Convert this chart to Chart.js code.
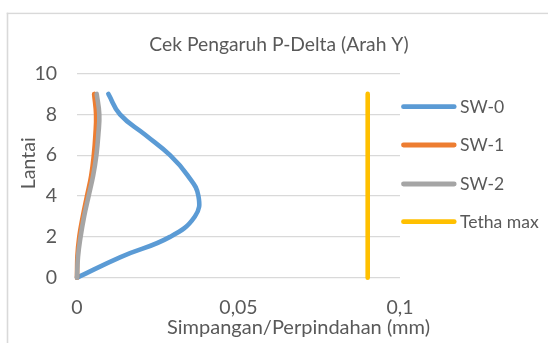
<!DOCTYPE html>
<html>
<head>
<meta charset="utf-8">
<script src="https://cdn.jsdelivr.net/npm/chart.js@4/dist/chart.umd.min.js"></script>
<style>
  html, body { margin: 0; padding: 0; background: #ffffff; overflow: hidden; }
  canvas { display: block; }
</style>
</head>
<body>
<canvas id="chart" width="548" height="343"></canvas>
<script>
// Floor levels (Lantai)
const floors = [0, 1, 2, 3, 4, 5, 6, 7, 8, 9];

// Storey drift per floor (mm) for each shear-wall configuration
const sw0 = [0, 0.0133, 0.0288, 0.0365, 0.0376, 0.0343, 0.0288, 0.0211, 0.0133, 0.0097];
const sw1 = [0, 0.0001, 0.0007, 0.0018, 0.0031, 0.0044, 0.0052, 0.0057, 0.0059, 0.0053];
const sw2 = [0, 0.0003, 0.0011, 0.0022, 0.0036, 0.0050, 0.0060, 0.0066, 0.0069, 0.0061];

// Stability limit (theta max)
const tethaX = [0.09, 0.09];
const tethaY = [0, 9];

// Axis ticks
const xTickValues = [0, 0.05, 0.1];
const xTickLabels = ['0', '0,05', '0,1'];
const yTickValues = [0, 2, 4, 6, 8, 10];

const seriesNames = ['SW-0', 'SW-1', 'SW-2', 'Tetha max'];
const seriesColors = ['#5B9BD5', '#ED7D31', '#A5A5A5', '#FFC000'];

const TEXT = '#595959';
const GRID = '#D9D9D9';
const FONT = 'Lato, "Open Sans", sans-serif';

const toPoints = (xs, ys) => xs.map((x, i) => ({ x: x, y: ys[i] }));

function makeSeries(i, xs, ys, tension, order) {
  return {
    label: seriesNames[i],
    data: toPoints(xs, ys),
    showLine: true,
    borderColor: seriesColors[i],
    backgroundColor: seriesColors[i],
    borderWidth: 4.6,
    borderCapStyle: 'round',
    borderJoinStyle: 'round',
    pointRadius: 0,
    pointHoverRadius: 0,
    tension: tension,
    order: order,
    clip: false
  };
}

// Frame, titles and legend drawn around the plot
const decorations = {
  id: 'decorations',
  beforeDraw(chart) {
    const ctx = chart.ctx;
    ctx.save();
    ctx.fillStyle = '#ffffff';
    ctx.fillRect(0, 0, chart.width, chart.height);
    ctx.fillStyle = GRID;
    ctx.fillRect(6.7, 12.7, 1.6, chart.height);
    ctx.fillRect(6.7, 12.7, chart.width, 1.4);
    ctx.restore();
  },
  afterDraw(chart) {
    const ctx = chart.ctx;
    ctx.save();
    ctx.fillStyle = TEXT;
    ctx.textBaseline = 'alphabetic';

    // chart title
    ctx.font = '19.3px ' + FONT;
    ctx.textAlign = 'center';
    ctx.fillText('Cek Pengaruh P-Delta (Arah Y)', 279, 51);

    // x-axis title
    ctx.font = '20px ' + FONT;
    ctx.fillText('Simpangan/Perpindahan (mm)', 298.5, 334);

    // y-axis title
    ctx.save();
    ctx.translate(35, 163.3);
    ctx.rotate(-Math.PI / 2);
    ctx.font = '19.5px ' + FONT;
    ctx.textAlign = 'center';
    ctx.fillText('Lantai', 0, 0);
    ctx.restore();

    // legend
    const ys = [106.7, 145, 184, 221.7];
    chart.data.datasets.forEach((ds, i) => {
      const y = ys[i];
      ctx.beginPath();
      ctx.strokeStyle = ds.borderColor;
      ctx.lineWidth = 4.8;
      ctx.lineCap = 'round';
      ctx.moveTo(403.5, y);
      ctx.lineTo(454.2, y);
      ctx.stroke();
      ctx.fillStyle = TEXT;
      ctx.font = '17.6px ' + FONT;
      ctx.textAlign = 'left';
      ctx.textBaseline = 'middle';
      ctx.fillText(ds.label, 460, y + 0.5);
    });
    ctx.restore();
  }
};

new Chart(document.getElementById('chart'), {
  type: 'scatter',
  data: {
    datasets: [
      makeSeries(0, sw0, floors, 0.45, 4),
      makeSeries(1, sw1, floors, 0.45, 3),
      makeSeries(2, sw2, floors, 0.45, 2),
      makeSeries(3, tethaX, tethaY, 0, 1)
    ]
  },
  options: {
    responsive: false,
    animation: false,
    devicePixelRatio: 1,
    layout: { padding: { left: 0, right: 148, top: 73.5, bottom: 0 } },
    plugins: {
      legend: { display: false },
      title: { display: false },
      tooltip: { enabled: false }
    },
    scales: {
      x: {
        type: 'linear',
        min: 0,
        max: 0.1,
        afterBuildTicks(scale) {
          scale.ticks = xTickValues.map(v => ({ value: v }));
        },
        afterFit(scale) { scale.height = 343 - 277.7; },
        grid: { display: false, drawTicks: false },
        border: { display: false },
        ticks: {
          color: TEXT,
          font: { family: FONT, size: 19.5 },
          padding: 18,
          maxRotation: 0,
          autoSkip: false,
          callback: (v) => {
            const i = xTickValues.findIndex(t => Math.abs(t - v) < 1e-9);
            return i >= 0 ? xTickLabels[i] : '';
          }
        }
      },
      y: {
        type: 'linear',
        min: 0,
        max: 10,
        afterBuildTicks(scale) {
          scale.ticks = yTickValues.map(v => ({ value: v }));
        },
        afterFit(scale) { scale.width = 77; },
        grid: { color: GRID, lineWidth: 1.3, drawTicks: false },
        border: { display: false },
        ticks: {
          color: TEXT,
          font: { family: FONT, size: 19.5 },
          padding: 20,
          autoSkip: false
        }
      }
    }
  },
  plugins: [decorations]
});
</script>
</body>
</html>
